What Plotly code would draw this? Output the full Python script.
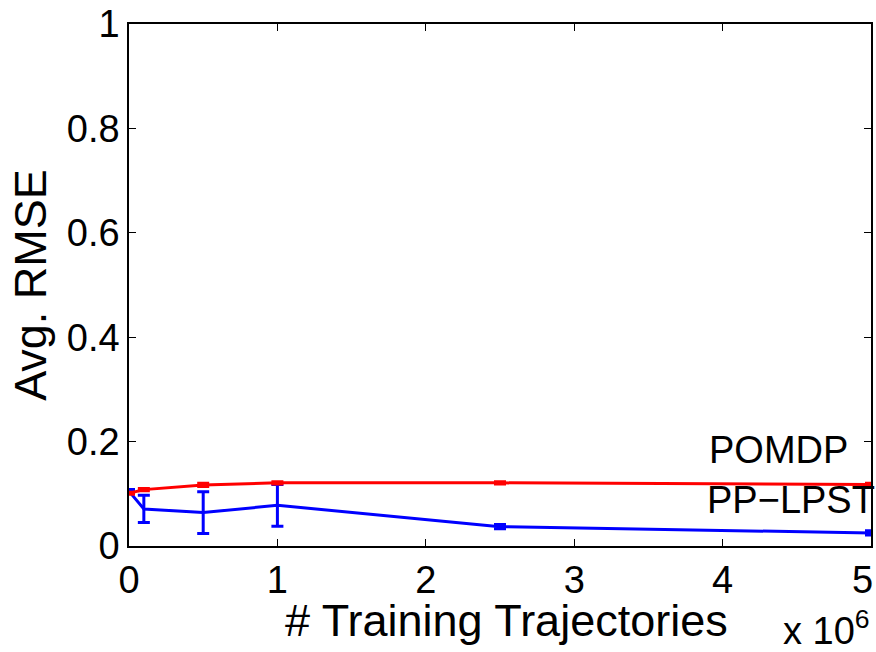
import plotly.graph_objects as go

# Data (x in units of 10^6 trajectories)
pomdp_x = [0, 0.1, 0.5, 1.0, 2.5, 5.0]
pomdp_y = [0.101, 0.108, 0.117, 0.121, 0.121, 0.118]
pomdp_err = [0.002, 0.002, 0.003, 0.002, 0.002, 0.002]

lpst_x = [0, 0.1, 0.5, 1.0, 2.5, 5.0]
lpst_y = [0.105, 0.071, 0.064, 0.078, 0.037, 0.025]
lpst_err = [0.003, 0.026, 0.040, 0.040, 0.004, 0.004]

x_ticks = [0, 1, 2, 3, 4, 5]
x_tick_text = ["0", "1", "2", "3", "4", ""]
y_ticks = [0, 0.2, 0.4, 0.6, 0.8, 1.0]
y_tick_text = ["0", "0.2", "0.4", "0.6", "0.8", "1"]

FONT = "Liberation Sans, Arial, Helvetica, sans-serif"
TICK = 38
TITLE = 45

fig = go.Figure()
fig.add_trace(go.Scatter(
    x=lpst_x, y=lpst_y, mode="lines", name="PP-LPST",
    line=dict(color="#0000ff", width=3),
    error_y=dict(type="data", array=lpst_err, color="#0000ff", thickness=3, width=6),
))
fig.add_trace(go.Scatter(
    x=pomdp_x, y=pomdp_y, mode="lines", name="POMDP",
    line=dict(color="#ff0000", width=3),
    error_y=dict(type="data", array=pomdp_err, color="#ff0000", thickness=3, width=6),
))

fig.add_annotation(x=3.9, y=0.183, xref="x", yref="y", text="POMDP", showarrow=False,
                   xanchor="left", yanchor="middle", borderpad=0,
                   font=dict(size=TICK, color="black", family=FONT))
fig.add_annotation(x=3.89, y=0.088, xref="x", yref="y", text="PP\u2212LPST", showarrow=False,
                   xanchor="left", yanchor="middle", borderpad=0,
                   font=dict(size=TICK, color="black", family=FONT))
# last x tick label (kept inside the window)
fig.add_annotation(x=1.0, y=0, xref="paper", yref="paper", text=str(x_ticks[-1]), showarrow=False,
                   xanchor="right", yanchor="top", yshift=-12, xshift=3, borderpad=0,
                   font=dict(size=TICK, color="black", family=FONT))
# x-axis title
fig.add_annotation(x=0.509, y=-0.1435, xref="paper", yref="paper", text="# Training Trajectories",
                   showarrow=False, xanchor="center", yanchor="middle", borderpad=0,
                   font=dict(size=TITLE, color="black", family=FONT))
fig.add_annotation(x=1.0, y=-0.2, xref="paper", yref="paper", text="x 10<sup>6</sup>", showarrow=False,
                   xanchor="right", yanchor="bottom", yshift=-3, borderpad=0,
                   font=dict(size=TICK, color="black", family=FONT))

fig.update_layout(
    width=876, height=652,
    margin=dict(l=129, r=3, t=23, b=106),
    paper_bgcolor="white", plot_bgcolor="white",
    showlegend=False,
    font=dict(family=FONT, size=TICK, color="black"),
    xaxis=dict(range=[0, 5], tickvals=x_ticks, ticktext=x_tick_text, ticks="inside", ticklen=7,
               tickcolor="black", tickfont=dict(size=TICK),
               showline=True, linecolor="black", linewidth=1.5, mirror="allticks", showgrid=False,
               zeroline=False),
    yaxis=dict(range=[0, 1], tickvals=y_ticks, ticktext=y_tick_text, ticks="inside", ticklen=7,
               tickcolor="black", tickfont=dict(size=TICK), showline=True, linecolor="black",
               linewidth=1.5, mirror="allticks",
               showgrid=False, zeroline=False, title=dict(text="Avg. RMSE", standoff=6,
                                                          font=dict(size=TITLE))),
)

fig.write_html("out.html")
